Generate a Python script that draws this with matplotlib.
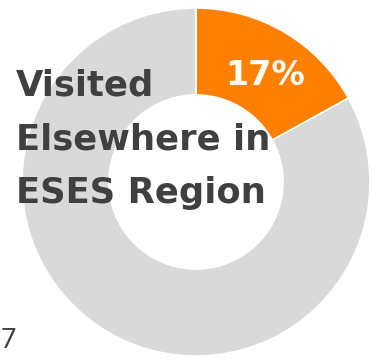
import matplotlib
matplotlib.use("Agg")
import matplotlib.pyplot as plt

# Share of visitors who visited elsewhere in the ESES region
categories = ["Visited Elsewhere in ESES Region", "Other"]
values = [17, 83]
colors = ["#FF8000", "#D9D9D9"]
title_lines = ["Visited", "Elsewhere in", "ESES Region"]
value_label = "17%"

W, H = 372, 361
fig = plt.figure(figsize=(W / 100, H / 100), dpi=100)
ax = fig.add_axes([0, 0, 1, 1])

cx, cy, R = 196, H - 182, 174
ax.pie(values, colors=colors, startangle=90, counterclock=False,
       center=(cx, cy), radius=R, frame=True,
       wedgeprops=dict(width=R * 0.5, edgecolor="white", linewidth=1.2))
ax.set_xlim(0, W)
ax.set_ylim(0, H)
ax.set_aspect("equal")
ax.axis("off")

font = ["DejaVu Sans"]
y0 = H - 95
for i, line in enumerate(title_lines):
    ax.text(16, y0 - i * 54, line, fontsize=25.5, fontweight="bold",
            color="#404040", family=font, ha="left", va="baseline")

ax.text(265, H - 85, value_label, fontsize=24, fontweight="bold",
        color="white", family=font, ha="center", va="baseline")

ax.text(1, H - 348, "7", fontsize=19, fontweight="normal",
        color="#404040", family=["Lato", "DejaVu Sans"], ha="left", va="baseline")

fig.savefig("out.png", dpi=100)
